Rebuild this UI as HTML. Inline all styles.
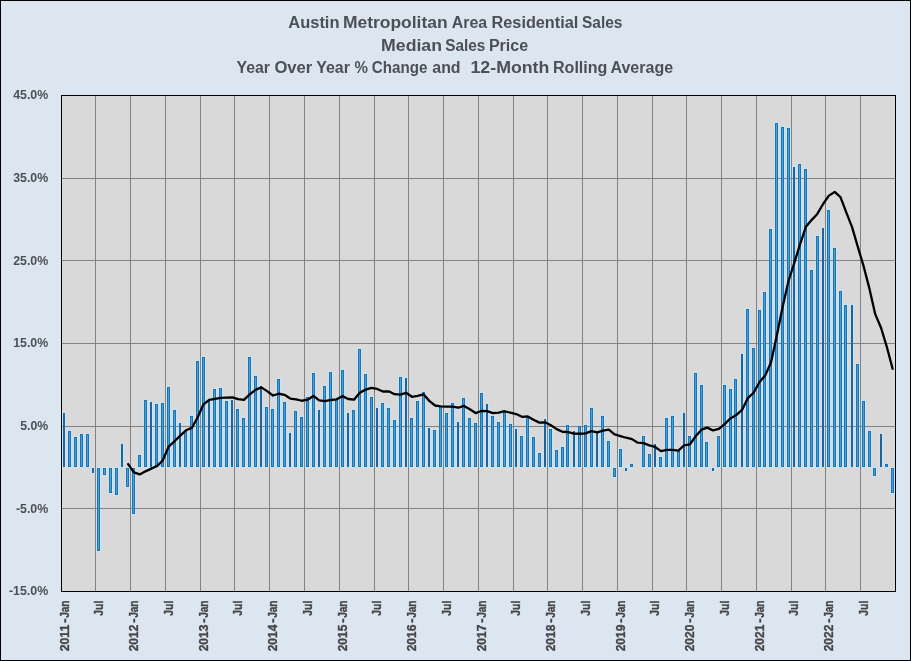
<!DOCTYPE html>
<html lang="en"><head><meta charset="utf-8"><title>Austin Metropolitan Area Residential Sales</title>
<style>html,body{margin:0;padding:0;background:#dce6f1}svg{display:block}.t text{font-family:"Liberation Sans",sans-serif;font-weight:bold}</style></head>
<body>
<svg width="911" height="661" viewBox="0 0 911 661">
<rect x="0" y="0" width="911" height="661" fill="#000"/>
<rect x="1" y="1" width="909" height="659" fill="#dce6f1"/>
<rect x="61.5" y="95.5" width="834.0" height="496.0" fill="#d9d9d9"/>
<g fill="#c9e3f7"><rect x="62" y="412" width="4" height="56"/><rect x="67" y="430" width="5" height="38"/><rect x="73" y="436" width="5" height="32"/><rect x="79" y="433" width="5" height="35"/><rect x="85" y="433" width="5" height="35"/><rect x="91" y="467" width="4" height="7"/><rect x="96" y="467" width="5" height="85"/><rect x="102" y="467" width="5" height="9"/><rect x="108" y="467" width="5" height="27"/><rect x="114" y="467" width="5" height="29"/><rect x="120" y="443" width="4" height="25"/><rect x="125" y="467" width="5" height="21"/><rect x="131" y="467" width="5" height="48"/><rect x="137" y="454" width="5" height="14"/><rect x="143" y="399" width="5" height="69"/><rect x="149" y="401" width="4" height="67"/><rect x="154" y="403" width="5" height="65"/><rect x="160" y="402" width="5" height="66"/><rect x="166" y="386" width="5" height="82"/><rect x="172" y="409" width="5" height="59"/><rect x="178" y="422" width="4" height="46"/><rect x="183" y="430" width="5" height="38"/><rect x="189" y="415" width="5" height="53"/><rect x="195" y="360" width="5" height="108"/><rect x="201" y="356" width="5" height="112"/><rect x="207" y="398" width="4" height="70"/><rect x="212" y="388" width="5" height="80"/><rect x="218" y="387" width="5" height="81"/><rect x="224" y="400" width="5" height="68"/><rect x="230" y="399" width="4" height="69"/><rect x="235" y="408" width="5" height="60"/><rect x="241" y="417" width="5" height="51"/><rect x="247" y="356" width="5" height="112"/><rect x="253" y="375" width="5" height="93"/><rect x="259" y="385" width="4" height="83"/><rect x="264" y="406" width="5" height="62"/><rect x="270" y="408" width="5" height="60"/><rect x="276" y="378" width="5" height="90"/><rect x="282" y="401" width="5" height="67"/><rect x="288" y="432" width="4" height="36"/><rect x="293" y="410" width="5" height="58"/><rect x="299" y="416" width="5" height="52"/><rect x="305" y="396" width="5" height="72"/><rect x="311" y="372" width="5" height="96"/><rect x="317" y="409" width="4" height="59"/><rect x="322" y="385" width="5" height="83"/><rect x="328" y="371" width="5" height="97"/><rect x="334" y="398" width="5" height="70"/><rect x="340" y="369" width="5" height="99"/><rect x="346" y="412" width="4" height="56"/><rect x="351" y="409" width="5" height="59"/><rect x="357" y="348" width="5" height="120"/><rect x="363" y="373" width="5" height="95"/><rect x="369" y="396" width="5" height="72"/><rect x="375" y="407" width="4" height="61"/><rect x="380" y="402" width="5" height="66"/><rect x="386" y="407" width="5" height="61"/><rect x="392" y="419" width="5" height="49"/><rect x="398" y="376" width="5" height="92"/><rect x="404" y="377" width="4" height="91"/><rect x="409" y="417" width="5" height="51"/><rect x="415" y="400" width="5" height="68"/><rect x="421" y="391" width="5" height="77"/><rect x="427" y="427" width="4" height="41"/><rect x="432" y="429" width="5" height="39"/><rect x="438" y="405" width="5" height="63"/><rect x="444" y="412" width="5" height="56"/><rect x="450" y="402" width="5" height="66"/><rect x="456" y="421" width="4" height="47"/><rect x="461" y="397" width="5" height="71"/><rect x="467" y="417" width="5" height="51"/><rect x="473" y="422" width="5" height="46"/><rect x="479" y="392" width="5" height="76"/><rect x="485" y="403" width="4" height="65"/><rect x="490" y="415" width="5" height="53"/><rect x="496" y="421" width="5" height="47"/><rect x="502" y="411" width="5" height="57"/><rect x="508" y="423" width="5" height="45"/><rect x="514" y="428" width="4" height="40"/><rect x="519" y="435" width="5" height="33"/><rect x="525" y="416" width="5" height="52"/><rect x="531" y="436" width="5" height="32"/><rect x="537" y="452" width="5" height="16"/><rect x="543" y="418" width="4" height="50"/><rect x="548" y="428" width="5" height="40"/><rect x="554" y="449" width="5" height="19"/><rect x="560" y="446" width="5" height="22"/><rect x="565" y="424" width="5" height="44"/><rect x="572" y="430" width="4" height="38"/><rect x="577" y="425" width="5" height="43"/><rect x="583" y="424" width="5" height="44"/><rect x="589" y="407" width="5" height="61"/><rect x="595" y="431" width="4" height="37"/><rect x="600" y="415" width="5" height="53"/><rect x="606" y="440" width="5" height="28"/><rect x="612" y="467" width="5" height="11"/><rect x="618" y="448" width="5" height="20"/><rect x="624" y="467" width="4" height="5"/><rect x="629" y="463" width="5" height="5"/><rect x="641" y="435" width="5" height="33"/><rect x="647" y="453" width="5" height="15"/><rect x="653" y="443" width="4" height="25"/><rect x="658" y="456" width="5" height="12"/><rect x="664" y="417" width="5" height="51"/><rect x="670" y="415" width="5" height="53"/><rect x="676" y="450" width="5" height="18"/><rect x="682" y="412" width="4" height="56"/><rect x="687" y="435" width="5" height="33"/><rect x="693" y="372" width="5" height="96"/><rect x="699" y="384" width="5" height="84"/><rect x="704" y="441" width="5" height="27"/><rect x="711" y="467" width="4" height="5"/><rect x="716" y="435" width="5" height="33"/><rect x="722" y="384" width="5" height="84"/><rect x="728" y="388" width="5" height="80"/><rect x="733" y="378" width="5" height="90"/><rect x="740" y="353" width="4" height="115"/><rect x="745" y="308" width="5" height="160"/><rect x="751" y="347" width="5" height="121"/><rect x="757" y="309" width="5" height="159"/><rect x="762" y="291" width="5" height="177"/><rect x="768" y="228" width="5" height="240"/><rect x="774" y="122" width="5" height="346"/><rect x="780" y="126" width="5" height="342"/><rect x="786" y="127" width="5" height="341"/><rect x="792" y="166" width="4" height="302"/><rect x="797" y="163" width="5" height="305"/><rect x="803" y="168" width="5" height="300"/><rect x="809" y="269" width="5" height="199"/><rect x="815" y="235" width="5" height="233"/><rect x="821" y="227" width="4" height="241"/><rect x="826" y="209" width="5" height="259"/><rect x="832" y="247" width="5" height="221"/><rect x="838" y="290" width="5" height="178"/><rect x="843" y="304" width="5" height="164"/><rect x="850" y="304" width="4" height="164"/><rect x="855" y="363" width="5" height="105"/><rect x="861" y="400" width="5" height="68"/><rect x="867" y="430" width="5" height="38"/><rect x="872" y="467" width="5" height="10"/><rect x="879" y="433" width="4" height="35"/><rect x="884" y="463" width="5" height="5"/><rect x="890" y="467" width="5" height="27"/></g>
<g stroke="#828282" stroke-width="1" shape-rendering="crispEdges"><line x1="95.5" y1="95.5" x2="95.5" y2="591.5"/><line x1="130.5" y1="95.5" x2="130.5" y2="591.5"/><line x1="165.5" y1="95.5" x2="165.5" y2="591.5"/><line x1="200.5" y1="95.5" x2="200.5" y2="591.5"/><line x1="234.5" y1="95.5" x2="234.5" y2="591.5"/><line x1="269.5" y1="95.5" x2="269.5" y2="591.5"/><line x1="304.5" y1="95.5" x2="304.5" y2="591.5"/><line x1="339.5" y1="95.5" x2="339.5" y2="591.5"/><line x1="374.5" y1="95.5" x2="374.5" y2="591.5"/><line x1="408.5" y1="95.5" x2="408.5" y2="591.5"/><line x1="443.5" y1="95.5" x2="443.5" y2="591.5"/><line x1="478.5" y1="95.5" x2="478.5" y2="591.5"/><line x1="513.5" y1="95.5" x2="513.5" y2="591.5"/><line x1="547.5" y1="95.5" x2="547.5" y2="591.5"/><line x1="582.5" y1="95.5" x2="582.5" y2="591.5"/><line x1="617.5" y1="95.5" x2="617.5" y2="591.5"/><line x1="652.5" y1="95.5" x2="652.5" y2="591.5"/><line x1="686.5" y1="95.5" x2="686.5" y2="591.5"/><line x1="721.5" y1="95.5" x2="721.5" y2="591.5"/><line x1="756.5" y1="95.5" x2="756.5" y2="591.5"/><line x1="791.5" y1="95.5" x2="791.5" y2="591.5"/><line x1="825.5" y1="95.5" x2="825.5" y2="591.5"/><line x1="860.5" y1="95.5" x2="860.5" y2="591.5"/><line x1="61.5" y1="178.5" x2="895.5" y2="178.5"/><line x1="61.5" y1="260.5" x2="895.5" y2="260.5"/><line x1="61.5" y1="343.5" x2="895.5" y2="343.5"/><line x1="61.5" y1="426.5" x2="895.5" y2="426.5"/><line x1="61.5" y1="508.5" x2="895.5" y2="508.5"/></g>
<g shape-rendering="crispEdges"><rect x="63" y="413" width="2" height="54" fill="#1f659c"/><rect x="68" y="431" width="3" height="36" fill="#2072ab"/><rect x="69" y="432" width="1" height="34" fill="#45a2de"/><rect x="74" y="437" width="3" height="30" fill="#2072ab"/><rect x="75" y="438" width="1" height="28" fill="#45a2de"/><rect x="80" y="434" width="3" height="33" fill="#2072ab"/><rect x="81" y="435" width="1" height="31" fill="#45a2de"/><rect x="86" y="434" width="3" height="33" fill="#2072ab"/><rect x="87" y="435" width="1" height="31" fill="#45a2de"/><rect x="92" y="468" width="2" height="5" fill="#1f659c"/><rect x="97" y="468" width="3" height="83" fill="#2072ab"/><rect x="98" y="469" width="1" height="81" fill="#45a2de"/><rect x="103" y="468" width="3" height="7" fill="#2072ab"/><rect x="104" y="469" width="1" height="5" fill="#45a2de"/><rect x="109" y="468" width="3" height="25" fill="#2072ab"/><rect x="110" y="469" width="1" height="23" fill="#45a2de"/><rect x="115" y="468" width="3" height="27" fill="#2072ab"/><rect x="116" y="469" width="1" height="25" fill="#45a2de"/><rect x="121" y="444" width="2" height="23" fill="#1f659c"/><rect x="126" y="468" width="3" height="19" fill="#2072ab"/><rect x="127" y="469" width="1" height="17" fill="#45a2de"/><rect x="132" y="468" width="3" height="46" fill="#2072ab"/><rect x="133" y="469" width="1" height="44" fill="#45a2de"/><rect x="138" y="455" width="3" height="12" fill="#2072ab"/><rect x="139" y="456" width="1" height="10" fill="#45a2de"/><rect x="144" y="400" width="3" height="67" fill="#2072ab"/><rect x="145" y="401" width="1" height="65" fill="#45a2de"/><rect x="150" y="402" width="2" height="65" fill="#1f659c"/><rect x="155" y="404" width="3" height="63" fill="#2072ab"/><rect x="156" y="405" width="1" height="61" fill="#45a2de"/><rect x="161" y="403" width="3" height="64" fill="#2072ab"/><rect x="162" y="404" width="1" height="62" fill="#45a2de"/><rect x="167" y="387" width="3" height="80" fill="#2072ab"/><rect x="168" y="388" width="1" height="78" fill="#45a2de"/><rect x="173" y="410" width="3" height="57" fill="#2072ab"/><rect x="174" y="411" width="1" height="55" fill="#45a2de"/><rect x="179" y="423" width="2" height="44" fill="#1f659c"/><rect x="184" y="431" width="3" height="36" fill="#2072ab"/><rect x="185" y="432" width="1" height="34" fill="#45a2de"/><rect x="190" y="416" width="3" height="51" fill="#2072ab"/><rect x="191" y="417" width="1" height="49" fill="#45a2de"/><rect x="196" y="361" width="3" height="106" fill="#2072ab"/><rect x="197" y="362" width="1" height="104" fill="#45a2de"/><rect x="202" y="357" width="3" height="110" fill="#2072ab"/><rect x="203" y="358" width="1" height="108" fill="#45a2de"/><rect x="208" y="399" width="2" height="68" fill="#1f659c"/><rect x="213" y="389" width="3" height="78" fill="#2072ab"/><rect x="214" y="390" width="1" height="76" fill="#45a2de"/><rect x="219" y="388" width="3" height="79" fill="#2072ab"/><rect x="220" y="389" width="1" height="77" fill="#45a2de"/><rect x="225" y="401" width="3" height="66" fill="#2072ab"/><rect x="226" y="402" width="1" height="64" fill="#45a2de"/><rect x="231" y="400" width="2" height="67" fill="#1f659c"/><rect x="236" y="409" width="3" height="58" fill="#2072ab"/><rect x="237" y="410" width="1" height="56" fill="#45a2de"/><rect x="242" y="418" width="3" height="49" fill="#2072ab"/><rect x="243" y="419" width="1" height="47" fill="#45a2de"/><rect x="248" y="357" width="3" height="110" fill="#2072ab"/><rect x="249" y="358" width="1" height="108" fill="#45a2de"/><rect x="254" y="376" width="3" height="91" fill="#2072ab"/><rect x="255" y="377" width="1" height="89" fill="#45a2de"/><rect x="260" y="386" width="2" height="81" fill="#1f659c"/><rect x="265" y="407" width="3" height="60" fill="#2072ab"/><rect x="266" y="408" width="1" height="58" fill="#45a2de"/><rect x="271" y="409" width="3" height="58" fill="#2072ab"/><rect x="272" y="410" width="1" height="56" fill="#45a2de"/><rect x="277" y="379" width="3" height="88" fill="#2072ab"/><rect x="278" y="380" width="1" height="86" fill="#45a2de"/><rect x="283" y="402" width="3" height="65" fill="#2072ab"/><rect x="284" y="403" width="1" height="63" fill="#45a2de"/><rect x="289" y="433" width="2" height="34" fill="#1f659c"/><rect x="294" y="411" width="3" height="56" fill="#2072ab"/><rect x="295" y="412" width="1" height="54" fill="#45a2de"/><rect x="300" y="417" width="3" height="50" fill="#2072ab"/><rect x="301" y="418" width="1" height="48" fill="#45a2de"/><rect x="306" y="397" width="3" height="70" fill="#2072ab"/><rect x="307" y="398" width="1" height="68" fill="#45a2de"/><rect x="312" y="373" width="3" height="94" fill="#2072ab"/><rect x="313" y="374" width="1" height="92" fill="#45a2de"/><rect x="318" y="410" width="2" height="57" fill="#1f659c"/><rect x="323" y="386" width="3" height="81" fill="#2072ab"/><rect x="324" y="387" width="1" height="79" fill="#45a2de"/><rect x="329" y="372" width="3" height="95" fill="#2072ab"/><rect x="330" y="373" width="1" height="93" fill="#45a2de"/><rect x="335" y="399" width="3" height="68" fill="#2072ab"/><rect x="336" y="400" width="1" height="66" fill="#45a2de"/><rect x="341" y="370" width="3" height="97" fill="#2072ab"/><rect x="342" y="371" width="1" height="95" fill="#45a2de"/><rect x="347" y="413" width="2" height="54" fill="#1f659c"/><rect x="352" y="410" width="3" height="57" fill="#2072ab"/><rect x="353" y="411" width="1" height="55" fill="#45a2de"/><rect x="358" y="349" width="3" height="118" fill="#2072ab"/><rect x="359" y="350" width="1" height="116" fill="#45a2de"/><rect x="364" y="374" width="3" height="93" fill="#2072ab"/><rect x="365" y="375" width="1" height="91" fill="#45a2de"/><rect x="370" y="397" width="3" height="70" fill="#2072ab"/><rect x="371" y="398" width="1" height="68" fill="#45a2de"/><rect x="376" y="408" width="2" height="59" fill="#1f659c"/><rect x="381" y="403" width="3" height="64" fill="#2072ab"/><rect x="382" y="404" width="1" height="62" fill="#45a2de"/><rect x="387" y="408" width="3" height="59" fill="#2072ab"/><rect x="388" y="409" width="1" height="57" fill="#45a2de"/><rect x="393" y="420" width="3" height="47" fill="#2072ab"/><rect x="394" y="421" width="1" height="45" fill="#45a2de"/><rect x="399" y="377" width="3" height="90" fill="#2072ab"/><rect x="400" y="378" width="1" height="88" fill="#45a2de"/><rect x="405" y="378" width="2" height="89" fill="#1f659c"/><rect x="410" y="418" width="3" height="49" fill="#2072ab"/><rect x="411" y="419" width="1" height="47" fill="#45a2de"/><rect x="416" y="401" width="3" height="66" fill="#2072ab"/><rect x="417" y="402" width="1" height="64" fill="#45a2de"/><rect x="422" y="392" width="3" height="75" fill="#2072ab"/><rect x="423" y="393" width="1" height="73" fill="#45a2de"/><rect x="428" y="428" width="2" height="39" fill="#1f659c"/><rect x="433" y="430" width="3" height="37" fill="#2072ab"/><rect x="434" y="431" width="1" height="35" fill="#45a2de"/><rect x="439" y="406" width="3" height="61" fill="#2072ab"/><rect x="440" y="407" width="1" height="59" fill="#45a2de"/><rect x="445" y="413" width="3" height="54" fill="#2072ab"/><rect x="446" y="414" width="1" height="52" fill="#45a2de"/><rect x="451" y="403" width="3" height="64" fill="#2072ab"/><rect x="452" y="404" width="1" height="62" fill="#45a2de"/><rect x="457" y="422" width="2" height="45" fill="#1f659c"/><rect x="462" y="398" width="3" height="69" fill="#2072ab"/><rect x="463" y="399" width="1" height="67" fill="#45a2de"/><rect x="468" y="418" width="3" height="49" fill="#2072ab"/><rect x="469" y="419" width="1" height="47" fill="#45a2de"/><rect x="474" y="423" width="3" height="44" fill="#2072ab"/><rect x="475" y="424" width="1" height="42" fill="#45a2de"/><rect x="480" y="393" width="3" height="74" fill="#2072ab"/><rect x="481" y="394" width="1" height="72" fill="#45a2de"/><rect x="486" y="404" width="2" height="63" fill="#1f659c"/><rect x="491" y="416" width="3" height="51" fill="#2072ab"/><rect x="492" y="417" width="1" height="49" fill="#45a2de"/><rect x="497" y="422" width="3" height="45" fill="#2072ab"/><rect x="498" y="423" width="1" height="43" fill="#45a2de"/><rect x="503" y="412" width="3" height="55" fill="#2072ab"/><rect x="504" y="413" width="1" height="53" fill="#45a2de"/><rect x="509" y="424" width="3" height="43" fill="#2072ab"/><rect x="510" y="425" width="1" height="41" fill="#45a2de"/><rect x="515" y="429" width="2" height="38" fill="#1f659c"/><rect x="520" y="436" width="3" height="31" fill="#2072ab"/><rect x="521" y="437" width="1" height="29" fill="#45a2de"/><rect x="526" y="417" width="3" height="50" fill="#2072ab"/><rect x="527" y="418" width="1" height="48" fill="#45a2de"/><rect x="532" y="437" width="3" height="30" fill="#2072ab"/><rect x="533" y="438" width="1" height="28" fill="#45a2de"/><rect x="538" y="453" width="3" height="14" fill="#2072ab"/><rect x="539" y="454" width="1" height="12" fill="#45a2de"/><rect x="544" y="419" width="2" height="48" fill="#1f659c"/><rect x="549" y="429" width="3" height="38" fill="#2072ab"/><rect x="550" y="430" width="1" height="36" fill="#45a2de"/><rect x="555" y="450" width="3" height="17" fill="#2072ab"/><rect x="556" y="451" width="1" height="15" fill="#45a2de"/><rect x="561" y="447" width="3" height="20" fill="#2072ab"/><rect x="562" y="448" width="1" height="18" fill="#45a2de"/><rect x="566" y="425" width="3" height="42" fill="#2072ab"/><rect x="567" y="426" width="1" height="40" fill="#45a2de"/><rect x="573" y="431" width="2" height="36" fill="#1f659c"/><rect x="578" y="426" width="3" height="41" fill="#2072ab"/><rect x="579" y="427" width="1" height="39" fill="#45a2de"/><rect x="584" y="425" width="3" height="42" fill="#2072ab"/><rect x="585" y="426" width="1" height="40" fill="#45a2de"/><rect x="590" y="408" width="3" height="59" fill="#2072ab"/><rect x="591" y="409" width="1" height="57" fill="#45a2de"/><rect x="596" y="432" width="2" height="35" fill="#1f659c"/><rect x="601" y="416" width="3" height="51" fill="#2072ab"/><rect x="602" y="417" width="1" height="49" fill="#45a2de"/><rect x="607" y="441" width="3" height="26" fill="#2072ab"/><rect x="608" y="442" width="1" height="24" fill="#45a2de"/><rect x="613" y="468" width="3" height="9" fill="#2072ab"/><rect x="614" y="469" width="1" height="7" fill="#45a2de"/><rect x="619" y="449" width="3" height="18" fill="#2072ab"/><rect x="620" y="450" width="1" height="16" fill="#45a2de"/><rect x="625" y="468" width="2" height="3" fill="#1f659c"/><rect x="630" y="464" width="3" height="3" fill="#2072ab"/><rect x="631" y="465" width="1" height="1" fill="#45a2de"/><rect x="642" y="436" width="3" height="31" fill="#2072ab"/><rect x="643" y="437" width="1" height="29" fill="#45a2de"/><rect x="648" y="454" width="3" height="13" fill="#2072ab"/><rect x="649" y="455" width="1" height="11" fill="#45a2de"/><rect x="654" y="444" width="2" height="23" fill="#1f659c"/><rect x="659" y="457" width="3" height="10" fill="#2072ab"/><rect x="660" y="458" width="1" height="8" fill="#45a2de"/><rect x="665" y="418" width="3" height="49" fill="#2072ab"/><rect x="666" y="419" width="1" height="47" fill="#45a2de"/><rect x="671" y="416" width="3" height="51" fill="#2072ab"/><rect x="672" y="417" width="1" height="49" fill="#45a2de"/><rect x="677" y="451" width="3" height="16" fill="#2072ab"/><rect x="678" y="452" width="1" height="14" fill="#45a2de"/><rect x="683" y="413" width="2" height="54" fill="#1f659c"/><rect x="688" y="436" width="3" height="31" fill="#2072ab"/><rect x="689" y="437" width="1" height="29" fill="#45a2de"/><rect x="694" y="373" width="3" height="94" fill="#2072ab"/><rect x="695" y="374" width="1" height="92" fill="#45a2de"/><rect x="700" y="385" width="3" height="82" fill="#2072ab"/><rect x="701" y="386" width="1" height="80" fill="#45a2de"/><rect x="705" y="442" width="3" height="25" fill="#2072ab"/><rect x="706" y="443" width="1" height="23" fill="#45a2de"/><rect x="712" y="468" width="2" height="3" fill="#1f659c"/><rect x="717" y="436" width="3" height="31" fill="#2072ab"/><rect x="718" y="437" width="1" height="29" fill="#45a2de"/><rect x="723" y="385" width="3" height="82" fill="#2072ab"/><rect x="724" y="386" width="1" height="80" fill="#45a2de"/><rect x="729" y="389" width="3" height="78" fill="#2072ab"/><rect x="730" y="390" width="1" height="76" fill="#45a2de"/><rect x="734" y="379" width="3" height="88" fill="#2072ab"/><rect x="735" y="380" width="1" height="86" fill="#45a2de"/><rect x="741" y="354" width="2" height="113" fill="#1f659c"/><rect x="746" y="309" width="3" height="158" fill="#2072ab"/><rect x="747" y="310" width="1" height="156" fill="#45a2de"/><rect x="752" y="348" width="3" height="119" fill="#2072ab"/><rect x="753" y="349" width="1" height="117" fill="#45a2de"/><rect x="758" y="310" width="3" height="157" fill="#2072ab"/><rect x="759" y="311" width="1" height="155" fill="#45a2de"/><rect x="763" y="292" width="3" height="175" fill="#2072ab"/><rect x="764" y="293" width="1" height="173" fill="#45a2de"/><rect x="769" y="229" width="3" height="238" fill="#2072ab"/><rect x="770" y="230" width="1" height="236" fill="#45a2de"/><rect x="775" y="123" width="3" height="344" fill="#2072ab"/><rect x="776" y="124" width="1" height="342" fill="#45a2de"/><rect x="781" y="127" width="3" height="340" fill="#2072ab"/><rect x="782" y="128" width="1" height="338" fill="#45a2de"/><rect x="787" y="128" width="3" height="339" fill="#2072ab"/><rect x="788" y="129" width="1" height="337" fill="#45a2de"/><rect x="793" y="167" width="2" height="300" fill="#1f659c"/><rect x="798" y="164" width="3" height="303" fill="#2072ab"/><rect x="799" y="165" width="1" height="301" fill="#45a2de"/><rect x="804" y="169" width="3" height="298" fill="#2072ab"/><rect x="805" y="170" width="1" height="296" fill="#45a2de"/><rect x="810" y="270" width="3" height="197" fill="#2072ab"/><rect x="811" y="271" width="1" height="195" fill="#45a2de"/><rect x="816" y="236" width="3" height="231" fill="#2072ab"/><rect x="817" y="237" width="1" height="229" fill="#45a2de"/><rect x="822" y="228" width="2" height="239" fill="#1f659c"/><rect x="827" y="210" width="3" height="257" fill="#2072ab"/><rect x="828" y="211" width="1" height="255" fill="#45a2de"/><rect x="833" y="248" width="3" height="219" fill="#2072ab"/><rect x="834" y="249" width="1" height="217" fill="#45a2de"/><rect x="839" y="291" width="3" height="176" fill="#2072ab"/><rect x="840" y="292" width="1" height="174" fill="#45a2de"/><rect x="844" y="305" width="3" height="162" fill="#2072ab"/><rect x="845" y="306" width="1" height="160" fill="#45a2de"/><rect x="851" y="305" width="2" height="162" fill="#1f659c"/><rect x="856" y="364" width="3" height="103" fill="#2072ab"/><rect x="857" y="365" width="1" height="101" fill="#45a2de"/><rect x="862" y="401" width="3" height="66" fill="#2072ab"/><rect x="863" y="402" width="1" height="64" fill="#45a2de"/><rect x="868" y="431" width="3" height="36" fill="#2072ab"/><rect x="869" y="432" width="1" height="34" fill="#45a2de"/><rect x="873" y="468" width="3" height="8" fill="#2072ab"/><rect x="874" y="469" width="1" height="6" fill="#45a2de"/><rect x="880" y="434" width="2" height="33" fill="#1f659c"/><rect x="885" y="464" width="3" height="3" fill="#2072ab"/><rect x="886" y="465" width="1" height="1" fill="#45a2de"/><rect x="891" y="468" width="3" height="25" fill="#2072ab"/><rect x="892" y="469" width="1" height="23" fill="#45a2de"/></g>
<polyline points="128.10,464.07 133.90,472.40 139.69,474.44 145.48,471.34 151.27,468.62 157.06,466.07 162.85,460.29 168.65,446.65 174.44,441.30 180.23,435.58 186.02,430.28 191.81,427.94 197.60,417.53 203.40,404.51 209.19,399.83 214.98,398.93 220.77,397.80 226.56,397.56 232.35,397.34 238.15,399.20 243.94,399.89 249.73,394.37 255.52,389.83 261.31,387.35 267.10,391.14 272.90,395.48 278.69,393.75 284.48,394.79 290.27,398.54 296.06,399.37 301.85,400.75 307.65,399.71 313.44,395.92 319.23,400.33 325.02,401.16 330.81,399.99 336.60,399.37 342.40,396.13 348.19,398.99 353.98,399.68 359.77,392.65 365.56,389.62 371.35,387.97 377.15,388.93 382.94,391.48 388.73,391.34 394.52,394.17 400.31,394.58 406.10,392.79 411.90,396.79 417.69,395.79 423.48,394.27 429.27,400.88 435.06,405.50 440.85,406.29 446.65,406.67 452.44,406.64 458.23,407.74 464.02,405.91 469.81,409.32 475.60,413.08 481.40,410.96 487.19,411.20 492.98,413.20 498.77,412.69 504.56,411.24 510.35,412.72 516.15,414.06 521.94,416.82 527.73,416.41 533.52,419.68 539.31,422.61 545.10,422.30 550.90,425.31 556.69,429.16 562.48,431.78 568.27,432.02 574.06,433.57 579.85,433.74 585.65,433.40 591.44,431.06 597.23,432.37 603.02,430.61 608.81,429.65 614.60,434.40 620.40,436.05 626.19,437.74 631.98,439.14 637.77,442.65 643.56,443.07 649.35,445.39 655.15,446.98 660.94,451.08 666.73,449.91 672.52,449.87 678.31,450.70 684.10,445.43 689.90,444.36 695.69,436.23 701.48,429.67 707.27,427.60 713.06,430.46 718.85,428.96 724.65,424.07 730.44,418.42 736.23,415.11 742.02,409.98 747.81,398.13 753.60,392.72 759.40,382.22 765.19,375.46 770.98,362.44 776.77,335.82 782.56,307.20 788.35,281.50 794.15,263.31 799.94,244.54 805.73,227.08 811.52,220.09 817.31,213.95 823.10,203.97 828.90,195.63 834.69,191.98 840.48,197.15 846.27,212.34 852.06,227.18 857.85,246.92 863.65,266.41 869.44,288.66 875.23,314.15 881.02,327.79 886.81,346.81 892.60,368.78" fill="none" stroke="#000" stroke-width="2.3" stroke-linejoin="round" stroke-linecap="round"/>
<rect x="61.5" y="95.5" width="834.0" height="496.0" fill="none" stroke="#000" stroke-width="1" shape-rendering="crispEdges"/>
<g class="t" fill="#4c4f55">
<text y="27.6" font-size="16"><tspan x="288.3" textLength="51.2" lengthAdjust="spacingAndGlyphs">Austin</tspan> <tspan x="342.91" textLength="104.73" lengthAdjust="spacingAndGlyphs">Metropolitan</tspan> <tspan x="451.7" textLength="35.4" lengthAdjust="spacingAndGlyphs">Area</tspan> <tspan x="491.58" textLength="86.67" lengthAdjust="spacingAndGlyphs">Residential</tspan> <tspan x="582.0" textLength="40.4" lengthAdjust="spacingAndGlyphs">Sales</tspan></text>
<text y="51.0" font-size="16"><tspan x="381.1" textLength="60.86" lengthAdjust="spacingAndGlyphs">Median</tspan> <tspan x="445.2" textLength="40.1" lengthAdjust="spacingAndGlyphs">Sales</tspan> <tspan x="488.9" textLength="39.2" lengthAdjust="spacingAndGlyphs">Price</tspan></text>
<text y="73.2" font-size="16"><tspan x="236.5" textLength="33.52" lengthAdjust="spacingAndGlyphs">Year</tspan> <tspan x="274.4" textLength="37.94" lengthAdjust="spacingAndGlyphs">Over</tspan> <tspan x="316.2" textLength="33.73" lengthAdjust="spacingAndGlyphs">Year</tspan> <tspan x="354.4" textLength="13.41" lengthAdjust="spacingAndGlyphs">%</tspan> <tspan x="371.8" textLength="55.5" lengthAdjust="spacingAndGlyphs">Change</tspan> <tspan x="432.3" textLength="28.27" lengthAdjust="spacingAndGlyphs">and</tspan> <tspan x="470.49" textLength="78.87" lengthAdjust="spacingAndGlyphs">12-Month</tspan> <tspan x="553.0" textLength="54.38" lengthAdjust="spacingAndGlyphs">Rolling</tspan> <tspan x="610.5" textLength="62.6" lengthAdjust="spacingAndGlyphs">Average</tspan></text>
<text x="48.2" y="99.2" font-size="12.6" text-anchor="end" textLength="35" lengthAdjust="spacingAndGlyphs">45.0%</text>
<text x="48.2" y="181.9" font-size="12.6" text-anchor="end" textLength="35" lengthAdjust="spacingAndGlyphs">35.0%</text>
<text x="48.2" y="264.5" font-size="12.6" text-anchor="end" textLength="35" lengthAdjust="spacingAndGlyphs">25.0%</text>
<text x="48.2" y="347.2" font-size="12.6" text-anchor="end" textLength="35" lengthAdjust="spacingAndGlyphs">15.0%</text>
<text x="48.2" y="429.9" font-size="12.6" text-anchor="end" textLength="28" lengthAdjust="spacingAndGlyphs">5.0%</text>
<text x="48.2" y="512.5" font-size="12.6" text-anchor="end" textLength="32.3" lengthAdjust="spacingAndGlyphs">-5.0%</text>
<text x="48.2" y="595.2" font-size="12.6" text-anchor="end" textLength="39.3" lengthAdjust="spacingAndGlyphs">-15.0%</text>
<text transform="translate(69.00,651) rotate(-90)" font-size="12.6" fill="#454545" stroke="#454545" stroke-width="0.35"><tspan x="-0.35" textLength="26.7" lengthAdjust="spacingAndGlyphs">2011</tspan><tspan x="28.2" textLength="4.3" lengthAdjust="spacingAndGlyphs">-</tspan><tspan x="33.2" textLength="17.3" lengthAdjust="spacingAndGlyphs">Jan</tspan></text>
<text transform="translate(103.00,600.7) rotate(-90)" font-size="12.6" fill="#454545" stroke="#454545" stroke-width="0.35" text-anchor="end" textLength="15" lengthAdjust="spacingAndGlyphs">Jul</text>
<text transform="translate(138.00,651) rotate(-90)" font-size="12.6" fill="#454545" stroke="#454545" stroke-width="0.35"><tspan x="-0.35" textLength="26.7" lengthAdjust="spacingAndGlyphs">2012</tspan><tspan x="28.2" textLength="4.3" lengthAdjust="spacingAndGlyphs">-</tspan><tspan x="33.2" textLength="17.3" lengthAdjust="spacingAndGlyphs">Jan</tspan></text>
<text transform="translate(173.00,600.7) rotate(-90)" font-size="12.6" fill="#454545" stroke="#454545" stroke-width="0.35" text-anchor="end" textLength="15" lengthAdjust="spacingAndGlyphs">Jul</text>
<text transform="translate(208.00,651) rotate(-90)" font-size="12.6" fill="#454545" stroke="#454545" stroke-width="0.35"><tspan x="-0.35" textLength="26.7" lengthAdjust="spacingAndGlyphs">2013</tspan><tspan x="28.2" textLength="4.3" lengthAdjust="spacingAndGlyphs">-</tspan><tspan x="33.2" textLength="17.3" lengthAdjust="spacingAndGlyphs">Jan</tspan></text>
<text transform="translate(242.00,600.7) rotate(-90)" font-size="12.6" fill="#454545" stroke="#454545" stroke-width="0.35" text-anchor="end" textLength="15" lengthAdjust="spacingAndGlyphs">Jul</text>
<text transform="translate(277.00,651) rotate(-90)" font-size="12.6" fill="#454545" stroke="#454545" stroke-width="0.35"><tspan x="-0.35" textLength="26.7" lengthAdjust="spacingAndGlyphs">2014</tspan><tspan x="28.2" textLength="4.3" lengthAdjust="spacingAndGlyphs">-</tspan><tspan x="33.2" textLength="17.3" lengthAdjust="spacingAndGlyphs">Jan</tspan></text>
<text transform="translate(312.00,600.7) rotate(-90)" font-size="12.6" fill="#454545" stroke="#454545" stroke-width="0.35" text-anchor="end" textLength="15" lengthAdjust="spacingAndGlyphs">Jul</text>
<text transform="translate(347.00,651) rotate(-90)" font-size="12.6" fill="#454545" stroke="#454545" stroke-width="0.35"><tspan x="-0.35" textLength="26.7" lengthAdjust="spacingAndGlyphs">2015</tspan><tspan x="28.2" textLength="4.3" lengthAdjust="spacingAndGlyphs">-</tspan><tspan x="33.2" textLength="17.3" lengthAdjust="spacingAndGlyphs">Jan</tspan></text>
<text transform="translate(381.00,600.7) rotate(-90)" font-size="12.6" fill="#454545" stroke="#454545" stroke-width="0.35" text-anchor="end" textLength="15" lengthAdjust="spacingAndGlyphs">Jul</text>
<text transform="translate(416.00,651) rotate(-90)" font-size="12.6" fill="#454545" stroke="#454545" stroke-width="0.35"><tspan x="-0.35" textLength="26.7" lengthAdjust="spacingAndGlyphs">2016</tspan><tspan x="28.2" textLength="4.3" lengthAdjust="spacingAndGlyphs">-</tspan><tspan x="33.2" textLength="17.3" lengthAdjust="spacingAndGlyphs">Jan</tspan></text>
<text transform="translate(451.00,600.7) rotate(-90)" font-size="12.6" fill="#454545" stroke="#454545" stroke-width="0.35" text-anchor="end" textLength="15" lengthAdjust="spacingAndGlyphs">Jul</text>
<text transform="translate(486.00,651) rotate(-90)" font-size="12.6" fill="#454545" stroke="#454545" stroke-width="0.35"><tspan x="-0.35" textLength="26.7" lengthAdjust="spacingAndGlyphs">2017</tspan><tspan x="28.2" textLength="4.3" lengthAdjust="spacingAndGlyphs">-</tspan><tspan x="33.2" textLength="17.3" lengthAdjust="spacingAndGlyphs">Jan</tspan></text>
<text transform="translate(520.00,600.7) rotate(-90)" font-size="12.6" fill="#454545" stroke="#454545" stroke-width="0.35" text-anchor="end" textLength="15" lengthAdjust="spacingAndGlyphs">Jul</text>
<text transform="translate(555.00,651) rotate(-90)" font-size="12.6" fill="#454545" stroke="#454545" stroke-width="0.35"><tspan x="-0.35" textLength="26.7" lengthAdjust="spacingAndGlyphs">2018</tspan><tspan x="28.2" textLength="4.3" lengthAdjust="spacingAndGlyphs">-</tspan><tspan x="33.2" textLength="17.3" lengthAdjust="spacingAndGlyphs">Jan</tspan></text>
<text transform="translate(590.00,600.7) rotate(-90)" font-size="12.6" fill="#454545" stroke="#454545" stroke-width="0.35" text-anchor="end" textLength="15" lengthAdjust="spacingAndGlyphs">Jul</text>
<text transform="translate(625.00,651) rotate(-90)" font-size="12.6" fill="#454545" stroke="#454545" stroke-width="0.35"><tspan x="-0.35" textLength="26.7" lengthAdjust="spacingAndGlyphs">2019</tspan><tspan x="28.2" textLength="4.3" lengthAdjust="spacingAndGlyphs">-</tspan><tspan x="33.2" textLength="17.3" lengthAdjust="spacingAndGlyphs">Jan</tspan></text>
<text transform="translate(659.00,600.7) rotate(-90)" font-size="12.6" fill="#454545" stroke="#454545" stroke-width="0.35" text-anchor="end" textLength="15" lengthAdjust="spacingAndGlyphs">Jul</text>
<text transform="translate(694.00,651) rotate(-90)" font-size="12.6" fill="#454545" stroke="#454545" stroke-width="0.35"><tspan x="-0.35" textLength="26.7" lengthAdjust="spacingAndGlyphs">2020</tspan><tspan x="28.2" textLength="4.3" lengthAdjust="spacingAndGlyphs">-</tspan><tspan x="33.2" textLength="17.3" lengthAdjust="spacingAndGlyphs">Jan</tspan></text>
<text transform="translate(729.00,600.7) rotate(-90)" font-size="12.6" fill="#454545" stroke="#454545" stroke-width="0.35" text-anchor="end" textLength="15" lengthAdjust="spacingAndGlyphs">Jul</text>
<text transform="translate(764.00,651) rotate(-90)" font-size="12.6" fill="#454545" stroke="#454545" stroke-width="0.35"><tspan x="-0.35" textLength="26.7" lengthAdjust="spacingAndGlyphs">2021</tspan><tspan x="28.2" textLength="4.3" lengthAdjust="spacingAndGlyphs">-</tspan><tspan x="33.2" textLength="17.3" lengthAdjust="spacingAndGlyphs">Jan</tspan></text>
<text transform="translate(798.00,600.7) rotate(-90)" font-size="12.6" fill="#454545" stroke="#454545" stroke-width="0.35" text-anchor="end" textLength="15" lengthAdjust="spacingAndGlyphs">Jul</text>
<text transform="translate(833.00,651) rotate(-90)" font-size="12.6" fill="#454545" stroke="#454545" stroke-width="0.35"><tspan x="-0.35" textLength="26.7" lengthAdjust="spacingAndGlyphs">2022</tspan><tspan x="28.2" textLength="4.3" lengthAdjust="spacingAndGlyphs">-</tspan><tspan x="33.2" textLength="17.3" lengthAdjust="spacingAndGlyphs">Jan</tspan></text>
<text transform="translate(868.00,600.7) rotate(-90)" font-size="12.6" fill="#454545" stroke="#454545" stroke-width="0.35" text-anchor="end" textLength="15" lengthAdjust="spacingAndGlyphs">Jul</text>
</g>
</svg>
</body></html>
